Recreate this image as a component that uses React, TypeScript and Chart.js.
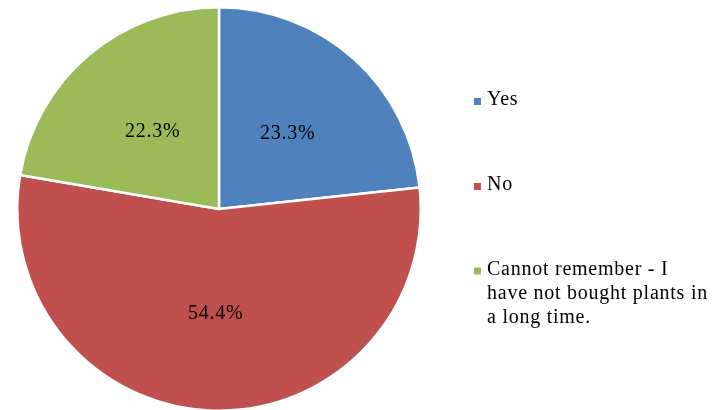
import React, { useEffect, useRef } from "react";
import { Chart, registerables } from "chart.js";

Chart.register(...registerables);

const categories = ["Yes", "No", "Cannot remember - I have not bought plants in a long time."];
const legendLines = [["Yes"], ["No"], ["Cannot remember - I", "have not bought plants in", "a long time."]];
const values = [23.3, 54.4, 22.3];
const valueLabels = ["23.3%", "54.4%", "22.3%"];
const colors = ["#4F81BD", "#C0504D", "#9BBB59"];

const FONT = '"Liberation Serif", "Times New Roman", serif';

const labelPlugin = {
  id: "sliceLabels",
  afterDatasetsDraw(chart: any) {
    const ctx = chart.ctx;
    const meta = chart.getDatasetMeta(0);
    ctx.save();
    ctx.font = `20px ${FONT}`;
    try { (ctx as any).letterSpacing = "0.75px"; } catch (e) {}
    ctx.fillStyle = "#000";
    ctx.textAlign = "center";
    ctx.textBaseline = "middle";
    meta.data.forEach((arc: any, i: number) => {
      const p = arc.getProps(["x", "y", "startAngle", "endAngle", "outerRadius"], true);
      const mid = (p.startAngle + p.endAngle) / 2;
      const r = p.outerRadius * 0.51;
      ctx.fillText(valueLabels[i], p.x + Math.cos(mid) * r, p.y + Math.sin(mid) * r + 1.5);
    });
    ctx.restore();
  },
};

const legendPlugin = {
  id: "sideLegend",
  afterDraw(chart: any) {
    const ctx = chart.ctx;
    ctx.save();
    ctx.font = `20px ${FONT}`;
    try { (ctx as any).letterSpacing = "0.75px"; } catch (e) {}
    ctx.textBaseline = "middle";
    ctx.textAlign = "left";
    const starts = [100, 185, 269.5];
    const lineH = 24.3;
    legendLines.forEach((lines, i) => {
      const y0 = starts[i];
      ctx.fillStyle = colors[i];
      ctx.fillRect(474, y0 - 2, 7, 7);
      ctx.fillStyle = "#000";
      lines.forEach((t, j) => ctx.fillText(t, 487, y0 + j * lineH));
    });
    ctx.restore();
  },
};

export default function App() {
  const ref = useRef<HTMLCanvasElement>(null);
  useEffect(() => {
    if (!ref.current) return;
    const chart = new Chart(ref.current, {
      type: "pie",
      data: {
        labels: categories,
        datasets: [
          {
            data: values,
            backgroundColor: colors,
            borderColor: "#ffffff",
            borderWidth: 2.5,
          },
        ],
      },
      options: {
        responsive: false,
        animation: false,
        layout: { padding: { left: 16, top: 6, right: 301, bottom: 0 } },
        plugins: {
          legend: { display: false },
          tooltip: { enabled: false },
        },
      },
      plugins: [labelPlugin, legendPlugin],
    });
    let alive = true;
    const redraw = () => {
      if (alive) chart.draw();
    };
    const timers = [30, 150, 400].map((ms) => setTimeout(redraw, ms));
    const fonts: any = (document as any).fonts;
    if (fonts && fonts.ready) fonts.ready.then(redraw).catch(() => {});
    return () => {
      alive = false;
      timers.forEach(clearTimeout);
      chart.destroy();
    };
  }, []);
  return (
    <div style={{ position: "absolute", left: 0, top: 0, width: 723, height: 410, overflow: "hidden", background: "#fff" }}>
      <canvas ref={ref} width={723} height={412} />
    </div>
  );
}
